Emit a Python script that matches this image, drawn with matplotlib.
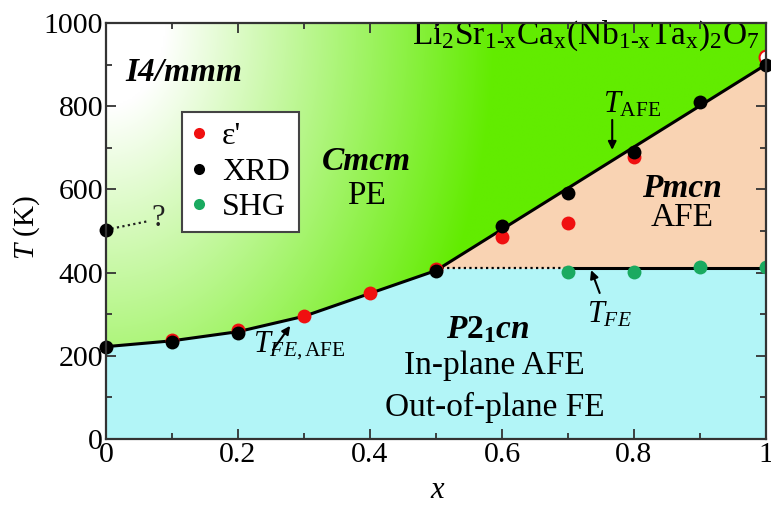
import matplotlib.pyplot as plt
import numpy as np
from matplotlib.patches import Polygon
from matplotlib.lines import Line2D
from matplotlib.colors import to_rgb

plt.rcParams["font.family"] = ["Liberation Serif", "DejaVu Serif"]
plt.rcParams["mathtext.fontset"] = "custom"
plt.rcParams["mathtext.rm"] = "Liberation Serif"
plt.rcParams["mathtext.it"] = "Liberation Serif:italic"
plt.rcParams["mathtext.bf"] = "Liberation Serif:bold"
plt.rcParams["mathtext.bfit"] = "Liberation Serif:bold:italic"

# measured points
x_xrd = [0, 0, 0.1, 0.2, 0.5, 0.6, 0.7, 0.8, 0.9, 1.0]
T_xrd = [220, 503, 233, 254, 403, 512, 591, 690, 811, 900]
x_eps = [0.1, 0.2, 0.3, 0.4, 0.5, 0.6, 0.7, 0.8]
T_eps = [239, 261, 295, 350, 409, 486, 519, 678]
x_eps_open = [1.0]
T_eps_open = [918]
x_shg = [0.7, 0.8, 0.9, 1.0]
T_shg = [402, 402, 414, 413]

# phase boundaries
x_bound = [0, 0.1, 0.2, 0.3, 0.4, 0.5, 1.0]
T_bound = [222, 236, 258, 295, 350, 405, 900]
T_fe = 411
x_fe_dot = [0.5, 0.7]
x_fe_solid = [0.7, 1.0]

GREEN = "#62ec00"
CYAN = "#b2f5f7"
PEACH = "#f9d3b3"
RED = "#f01010"
SHG_C = "#1aaa60"
TXT = 24

fig = plt.figure(figsize=(7.71, 5.15), dpi=100)
ax = fig.add_axes([106 / 771, 1 - 439 / 515, 660 / 771, 416 / 515])
ax.set_xlim(0, 1)
ax.set_ylim(0, 1000)

# background regions
xs = np.linspace(0, 1, 401)
tb = np.interp(xs, x_bound, T_bound)
low = np.minimum(tb, T_fe)
ax.fill_between(xs, 0, low, color=CYAN, lw=0, zorder=0)
ax.fill_between(xs, low, tb, color=PEACH, lw=0, zorder=0)

verts = np.column_stack([np.r_[xs, 1, 0], np.r_[tb, 1000, 1000]])
poly = Polygon(verts, closed=True, facecolor="none", edgecolor="none")
ax.add_patch(poly)
gx, gy = np.meshgrid(np.linspace(0, 1, 400), np.linspace(1, 0, 300))
d = np.hypot(gx * 0.9, (1 - gy) * 0.4)
f = np.clip((d - 0.08) / 0.45, 0, 1)
g = np.array(to_rgb(GREEN))
img = (1 - f[..., None]) * np.ones(3) + f[..., None] * g
im = ax.imshow(img, extent=[0, 1, 0, 1000], aspect="auto", zorder=0,
               interpolation="bilinear")
im.set_clip_path(poly)

# lines
ax.plot(x_bound, T_bound, color="k", lw=2.2, zorder=2)
ax.plot(x_fe_dot, [T_fe, T_fe], color="k", lw=1.6, ls=(0, (1, 1.5)), zorder=2)
ax.plot(x_fe_solid, [T_fe, T_fe], color="k", lw=2.2, zorder=2)
ax.plot([0, 0.065], [503, 524], color="#222222", lw=1.6, ls=(0, (1, 1.5)),
        zorder=2, clip_on=False)
ax.text(0.068, 530, "?", fontsize=22, ha="left", va="center", color="#222222")

# data points
ms = 10
ax.plot(x_eps_open, T_eps_open, "o", ms=ms, mfc="white", mec=RED, mew=1.5,
        zorder=3)
ax.plot(x_eps, T_eps, "o", ms=ms, color=RED, mec="none", zorder=3)
ax.plot(x_xrd, T_xrd, "o", ms=ms, color="k", mec="none", zorder=4,
        clip_on=False)
ax.plot(x_shg, T_shg, "o", ms=ms, color=SHG_C, mec="none", zorder=5)

# legend
handles = [
    Line2D([], [], ls="none", marker="o", ms=8, color=RED, mec="none"),
    Line2D([], [], ls="none", marker="o", ms=8, color="k", mec="none"),
    Line2D([], [], ls="none", marker="o", ms=8, color=SHG_C, mec="none"),
]
leg = ax.legend(handles, ["\u03b5'", "XRD", "SHG"], loc="upper left",
                bbox_to_anchor=(0.115, 0.786), fontsize=23, frameon=True,
                fancybox=False, framealpha=1, edgecolor="#444444",
                handlelength=0.5, handletextpad=0.45, borderpad=0.3,
                labelspacing=0.2, borderaxespad=0)
leg.get_frame().set_linewidth(1.5)
leg.set_zorder(6)

# region labels
ax.text(0.029, 882, "I4/mmm", fontsize=TXT, fontweight="bold",
        fontstyle="italic", ha="left", va="center")
ax.text(0.99, 969,
        r"Li$_2$Sr$_{\mathrm{1\text{-}x}}$Ca$_\mathrm{x}$(Nb$_{\mathrm{1\text{-}x}}$Ta$_\mathrm{x}$)$_2$O$_7$",
        fontsize=24, ha="right", va="center")
ax.text(0.395, 666, "Cmcm", fontsize=TXT, fontweight="bold",
        fontstyle="italic", ha="center", va="center")
ax.text(0.395, 584, "PE", fontsize=TXT, ha="center", va="center")
ax.text(0.873, 601, "Pmcn", fontsize=TXT, fontweight="bold",
        fontstyle="italic", ha="center", va="center")
ax.text(0.873, 531, "AFE", fontsize=TXT, ha="center", va="center")
ax.text(0.578, 262, r"$\mathbfit{P}\mathbf{2}_\mathbf{1}\mathbfit{cn}$",
        fontsize=TXT, ha="center", va="center")
ax.text(0.589, 175, "In-plane AFE", fontsize=TXT, ha="center", va="center")
ax.text(0.589, 75, "Out-of-plane FE", fontsize=TXT, ha="center", va="center")

# transition labels with arrows
arrow = dict(arrowstyle="-|>", color="k", lw=1.5, mutation_scale=12,
             shrinkA=0, shrinkB=0)
ax.text(0.753, 784, r"$T_{\mathrm{AFE}}$", fontsize=22, ha="left",
        va="baseline")
ax.annotate("", xy=(0.767, 695), xytext=(0.767, 767), arrowprops=arrow)
ax.text(0.729, 281, r"$T_{FE}$", fontsize=22, ha="left", va="baseline")
ax.annotate("", xy=(0.735, 406), xytext=(0.748, 351), arrowprops=arrow)
ax.text(0.223, 210, r"$T_{FE,\mathrm{AFE}}$", fontsize=22, ha="left",
        va="baseline")
ax.annotate("", xy=(0.279, 272), xytext=(0.253, 214), arrowprops=arrow)

# axes styling
ax.set_xticks(np.arange(0, 1.01, 0.2))
ax.set_xticklabels(["0", "0.2", "0.4", "0.6", "0.8", "1"])
ax.set_xticks(np.arange(0.1, 1.0, 0.2), minor=True)
ax.set_yticks(np.arange(0, 1001, 200))
ax.set_yticks(np.arange(100, 1000, 200), minor=True)
ax.tick_params(which="both", direction="in", top=True, right=True,
               labelsize=21.5, width=1.3, color="#333333")
ax.tick_params(which="major", length=7, pad=2)
ax.tick_params(which="minor", length=4)
for sp in ax.spines.values():
    sp.set_linewidth(1.6)
    sp.set_color("#333333")
    sp.set_zorder(7)

fig.text(27 / 771, 1 - 228 / 515, r"$T$ (K)", fontsize=21, rotation=90,
         ha="center", va="center")
fig.text(438 / 771, 1 - 490 / 515, r"$x$", fontsize=22, ha="center",
         va="center")

fig.savefig("out.png", dpi=100)
